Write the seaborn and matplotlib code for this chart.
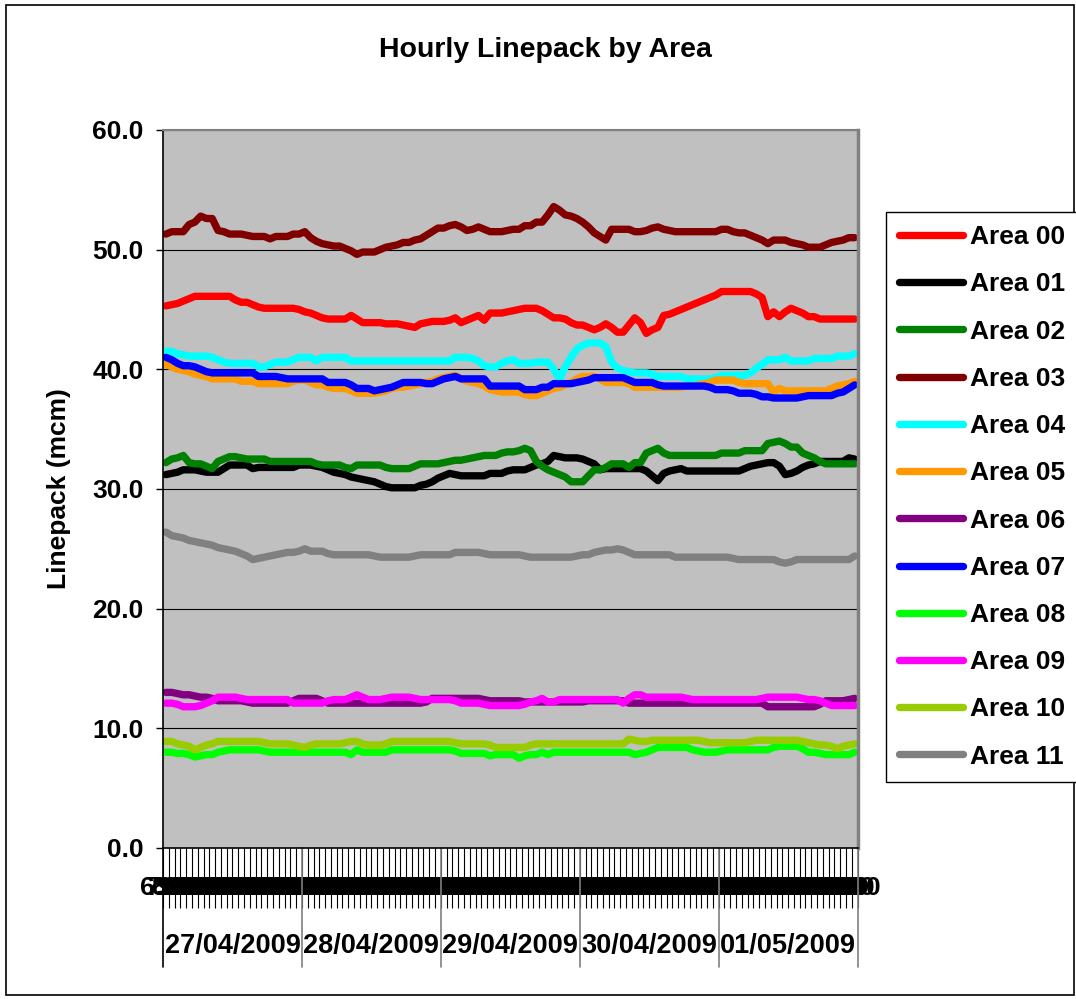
import matplotlib.pyplot as plt
import matplotlib.transforms as mtransforms
from matplotlib.patches import Rectangle
import seaborn as sns
import numpy as np
import pandas as pd

# gas days and hourly category labels
days = ['27/04/2009', '28/04/2009', '29/04/2009', '30/04/2009', '01/05/2009']
hours = ['6:00', '7:00', '8:00', '9:00', '10:00', '11:00', '12:00', '13:00',
         '14:00', '15:00', '16:00', '17:00', '18:00', '19:00', '20:00', '21:00',
         '22:00', '23:00', '0:00', '1:00', '2:00', '3:00', '4:00', '5:00']

# linepack (mcm), one row per gas day
area_00 = [45.3, 45.4, 45.5, 45.7, 45.9, 46.1, 46.1, 46.1, 46.1, 46.1, 46.1, 46.1, 45.8, 45.6, 45.6, 45.4, 45.2, 45.1, 45.1, 45.1, 45.1, 45.1, 45.1, 45.0,
           44.8, 44.7, 44.5, 44.3, 44.2, 44.2, 44.2, 44.2, 44.5, 44.2, 43.9, 43.9, 43.9, 43.9, 43.8, 43.8, 43.8, 43.7, 43.6, 43.5, 43.8, 43.9, 44.0, 44.0,
           44.0, 44.1, 44.3, 43.9, 44.1, 44.3, 44.5, 44.1, 44.7, 44.7, 44.7, 44.8, 44.9, 45.0, 45.1, 45.1, 45.1, 44.9, 44.6, 44.3, 44.3, 44.2, 43.9, 43.7,
           43.7, 43.5, 43.3, 43.5, 43.8, 43.5, 43.1, 43.1, 43.7, 44.3, 43.9, 43.0, 43.3, 43.5, 44.5, 44.6, 44.8, 45.0, 45.2, 45.4, 45.6, 45.8, 46.0, 46.2,
           46.5, 46.5, 46.5, 46.5, 46.5, 46.5, 46.3, 46.0, 44.4, 44.8, 44.4, 44.8, 45.1, 44.9, 44.7, 44.4, 44.4, 44.2, 44.2, 44.2, 44.2, 44.2, 44.2, 44.2]
area_01 = [31.2, 31.3, 31.4, 31.6, 31.6, 31.6, 31.5, 31.4, 31.4, 31.4, 31.7, 32.0, 32.0, 32.0, 32.0, 31.7, 31.8, 31.8, 31.8, 31.8, 31.8, 31.8, 31.8, 32.0,
           32.0, 32.0, 31.9, 31.8, 31.6, 31.4, 31.3, 31.2, 31.0, 30.9, 30.8, 30.7, 30.6, 30.4, 30.2, 30.1, 30.1, 30.1, 30.1, 30.1, 30.3, 30.4, 30.6, 30.9,
           31.1, 31.3, 31.2, 31.1, 31.1, 31.1, 31.1, 31.1, 31.3, 31.3, 31.3, 31.5, 31.6, 31.6, 31.6, 31.8, 32.0, 32.1, 32.3, 32.8, 32.7, 32.6, 32.6, 32.6,
           32.5, 32.3, 32.1, 31.6, 31.7, 31.7, 31.7, 31.7, 31.7, 31.7, 31.7, 31.5, 31.1, 30.7, 31.3, 31.5, 31.6, 31.7, 31.5, 31.5, 31.5, 31.5, 31.5, 31.5,
           31.5, 31.5, 31.5, 31.5, 31.7, 31.9, 32.0, 32.1, 32.2, 32.2, 31.9, 31.2, 31.3, 31.5, 31.8, 32.0, 32.1, 32.3, 32.3, 32.3, 32.3, 32.3, 32.6, 32.5]
area_02 = [32.2, 32.5, 32.6, 32.8, 32.2, 32.1, 32.1, 31.9, 31.7, 32.3, 32.5, 32.7, 32.7, 32.6, 32.5, 32.5, 32.5, 32.5, 32.3, 32.3, 32.3, 32.3, 32.3, 32.3,
           32.3, 32.3, 32.1, 32.0, 32.0, 32.0, 32.0, 31.8, 31.7, 32.0, 32.0, 32.0, 32.0, 32.0, 31.8, 31.7, 31.7, 31.7, 31.7, 31.9, 32.1, 32.1, 32.1, 32.1,
           32.2, 32.3, 32.4, 32.4, 32.5, 32.6, 32.7, 32.8, 32.8, 32.8, 33.0, 33.1, 33.1, 33.2, 33.4, 33.2, 32.3, 31.9, 31.6, 31.4, 31.2, 31.0, 30.6, 30.6,
           30.6, 31.1, 31.6, 31.6, 31.8, 32.1, 32.1, 32.1, 31.8, 32.2, 32.2, 33.0, 33.2, 33.4, 33.0, 32.8, 32.8, 32.8, 32.8, 32.8, 32.8, 32.8, 32.8, 32.8,
           33.0, 33.0, 33.0, 33.0, 33.2, 33.2, 33.2, 33.2, 33.8, 33.9, 34.0, 33.8, 33.5, 33.5, 33.0, 32.8, 32.6, 32.3, 32.1, 32.1, 32.1, 32.1, 32.1, 32.1]
area_03 = [51.3, 51.5, 51.5, 51.5, 52.1, 52.3, 52.8, 52.6, 52.6, 51.6, 51.5, 51.3, 51.3, 51.3, 51.2, 51.1, 51.1, 51.1, 50.9, 51.1, 51.1, 51.1, 51.3, 51.3,
           51.5, 51.0, 50.7, 50.5, 50.4, 50.3, 50.3, 50.1, 49.9, 49.6, 49.8, 49.8, 49.8, 50.0, 50.2, 50.3, 50.4, 50.6, 50.6, 50.8, 50.9, 51.2, 51.5, 51.8,
           51.8, 52.0, 52.1, 51.9, 51.6, 51.7, 51.9, 51.7, 51.5, 51.5, 51.5, 51.6, 51.7, 51.7, 52.0, 52.0, 52.3, 52.3, 52.9, 53.6, 53.3, 52.9, 52.8, 52.6,
           52.3, 51.9, 51.4, 51.1, 50.8, 51.7, 51.7, 51.7, 51.7, 51.5, 51.5, 51.6, 51.8, 51.9, 51.7, 51.6, 51.5, 51.5, 51.5, 51.5, 51.5, 51.5, 51.5, 51.5,
           51.7, 51.7, 51.5, 51.4, 51.4, 51.2, 51.0, 50.8, 50.5, 50.8, 50.8, 50.8, 50.6, 50.5, 50.4, 50.2, 50.2, 50.2, 50.4, 50.6, 50.7, 50.8, 51.0, 51.0]
area_04 = [41.5, 41.5, 41.3, 41.2, 41.1, 41.1, 41.1, 41.1, 41.0, 40.8, 40.6, 40.5, 40.5, 40.5, 40.5, 40.5, 40.2, 40.2, 40.4, 40.6, 40.6, 40.6, 40.8, 41.0,
           41.0, 41.0, 40.7, 41.0, 41.0, 41.0, 41.0, 41.0, 40.7, 40.7, 40.7, 40.7, 40.7, 40.7, 40.7, 40.7, 40.7, 40.7, 40.7, 40.7, 40.7, 40.7, 40.7, 40.7,
           40.7, 40.7, 41.0, 41.0, 41.0, 40.9, 40.7, 40.3, 40.2, 40.2, 40.5, 40.7, 40.8, 40.5, 40.5, 40.5, 40.6, 40.6, 40.6, 40.0, 39.2, 40.2, 41.0, 41.7,
           42.0, 42.2, 42.2, 42.2, 41.9, 40.6, 40.1, 39.9, 39.8, 39.7, 39.7, 39.7, 39.6, 39.4, 39.4, 39.4, 39.4, 39.4, 39.2, 39.2, 39.2, 39.2, 39.2, 39.3,
           39.5, 39.5, 39.5, 39.5, 39.5, 39.7, 40.1, 40.4, 40.8, 40.8, 40.8, 41.0, 40.7, 40.7, 40.7, 40.7, 40.9, 40.9, 40.9, 40.9, 41.1, 41.1, 41.1, 41.3]
area_05 = [40.4, 40.2, 40.0, 39.9, 39.8, 39.6, 39.5, 39.4, 39.2, 39.2, 39.2, 39.2, 39.2, 39.0, 39.0, 39.0, 38.8, 38.8, 38.8, 38.8, 38.8, 38.8, 39.0, 39.1,
           39.1, 38.9, 38.7, 38.7, 38.5, 38.4, 38.4, 38.4, 38.2, 38.0, 38.0, 38.0, 38.0, 38.1, 38.2, 38.4, 38.5, 38.5, 38.6, 38.7, 38.8, 38.9, 39.0, 39.2,
           39.3, 39.4, 39.5, 39.2, 39.0, 38.9, 38.8, 38.6, 38.3, 38.2, 38.1, 38.1, 38.1, 38.1, 37.9, 37.8, 37.8, 38.0, 38.2, 38.4, 38.5, 38.7, 38.9, 39.2,
           39.4, 39.4, 39.4, 39.2, 38.9, 38.9, 38.9, 38.9, 38.8, 38.5, 38.5, 38.5, 38.5, 38.5, 38.5, 38.5, 38.5, 38.5, 38.6, 38.6, 38.7, 38.8, 38.9, 39.1,
           39.1, 39.1, 39.1, 38.9, 38.8, 38.8, 38.8, 38.8, 38.8, 38.1, 38.4, 38.2, 38.2, 38.2, 38.2, 38.2, 38.2, 38.2, 38.2, 38.4, 38.6, 38.7, 38.8, 39.0]
area_06 = [13.0, 13.0, 12.9, 12.8, 12.8, 12.7, 12.6, 12.6, 12.5, 12.3, 12.3, 12.3, 12.3, 12.3, 12.2, 12.1, 12.1, 12.1, 12.1, 12.1, 12.1, 12.1, 12.3, 12.5,
           12.5, 12.5, 12.5, 12.3, 12.1, 12.1, 12.1, 12.1, 12.1, 12.1, 12.1, 12.1, 12.1, 12.1, 12.1, 12.1, 12.1, 12.1, 12.1, 12.1, 12.1, 12.2, 12.5, 12.5,
           12.5, 12.5, 12.5, 12.5, 12.5, 12.5, 12.5, 12.4, 12.3, 12.3, 12.3, 12.3, 12.3, 12.3, 12.2, 12.2, 12.2, 12.2, 12.2, 12.2, 12.2, 12.2, 12.2, 12.2,
           12.2, 12.3, 12.3, 12.3, 12.3, 12.3, 12.3, 12.3, 12.1, 12.1, 12.1, 12.1, 12.1, 12.1, 12.1, 12.1, 12.1, 12.1, 12.1, 12.1, 12.1, 12.1, 12.1, 12.1,
           12.1, 12.1, 12.1, 12.1, 12.1, 12.1, 12.1, 12.1, 11.8, 11.8, 11.8, 11.8, 11.8, 11.8, 11.8, 11.8, 11.8, 12.0, 12.3, 12.3, 12.3, 12.3, 12.4, 12.5]
area_07 = [41.0, 40.8, 40.5, 40.3, 40.3, 40.2, 40.0, 39.8, 39.7, 39.7, 39.7, 39.7, 39.7, 39.7, 39.7, 39.7, 39.4, 39.4, 39.4, 39.4, 39.3, 39.2, 39.2, 39.2,
           39.2, 39.2, 39.2, 39.2, 38.9, 38.9, 38.9, 38.9, 38.7, 38.4, 38.4, 38.4, 38.2, 38.3, 38.4, 38.5, 38.7, 38.9, 38.9, 38.9, 38.9, 38.8, 38.8, 39.0,
           39.2, 39.3, 39.4, 39.2, 39.2, 39.2, 39.2, 39.2, 38.6, 38.6, 38.6, 38.6, 38.6, 38.6, 38.3, 38.3, 38.3, 38.5, 38.5, 38.8, 38.8, 38.8, 38.8, 38.9,
           39.0, 39.1, 39.3, 39.3, 39.3, 39.3, 39.3, 39.3, 39.1, 38.9, 38.9, 38.9, 38.9, 38.7, 38.6, 38.6, 38.6, 38.6, 38.6, 38.6, 38.6, 38.6, 38.5, 38.3,
           38.3, 38.3, 38.2, 38.0, 38.0, 38.0, 37.9, 37.7, 37.7, 37.6, 37.6, 37.6, 37.6, 37.6, 37.7, 37.8, 37.8, 37.8, 37.8, 37.8, 38.0, 38.1, 38.4, 38.7]
area_08 = [8.0, 8.0, 7.9, 7.9, 7.8, 7.6, 7.7, 7.8, 7.8, 8.0, 8.1, 8.2, 8.2, 8.2, 8.2, 8.2, 8.2, 8.1, 8.0, 8.0, 8.0, 8.0, 8.0, 8.0,
           8.0, 8.0, 8.0, 8.0, 8.0, 8.0, 8.0, 8.0, 7.8, 8.2, 8.0, 8.0, 8.0, 8.0, 8.0, 8.2, 8.2, 8.2, 8.2, 8.2, 8.2, 8.2, 8.2, 8.2,
           8.2, 8.2, 8.1, 7.9, 7.9, 7.9, 7.9, 7.9, 7.7, 7.8, 7.8, 7.8, 7.8, 7.5, 7.7, 7.8, 7.8, 8.0, 7.8, 8.0, 8.0, 8.0, 8.0, 8.0,
           8.0, 8.0, 8.0, 8.0, 8.0, 8.0, 8.0, 8.0, 8.0, 7.8, 7.9, 8.0, 8.2, 8.4, 8.4, 8.4, 8.4, 8.4, 8.4, 8.2, 8.1, 8.0, 8.0, 8.0,
           8.1, 8.2, 8.2, 8.2, 8.2, 8.2, 8.2, 8.2, 8.2, 8.4, 8.5, 8.5, 8.5, 8.5, 8.3, 8.0, 8.0, 7.9, 7.8, 7.8, 7.8, 7.8, 7.8, 8.0]
area_09 = [12.1, 12.1, 12.0, 11.8, 11.8, 11.8, 11.9, 12.1, 12.3, 12.6, 12.6, 12.6, 12.6, 12.5, 12.4, 12.4, 12.4, 12.4, 12.4, 12.4, 12.4, 12.4, 12.1, 12.1,
           12.1, 12.1, 12.1, 12.1, 12.3, 12.4, 12.4, 12.4, 12.6, 12.8, 12.6, 12.4, 12.4, 12.4, 12.5, 12.6, 12.6, 12.6, 12.6, 12.5, 12.4, 12.4, 12.4, 12.4,
           12.4, 12.4, 12.3, 12.1, 12.1, 12.1, 12.1, 12.0, 11.9, 11.9, 11.9, 11.9, 11.9, 11.9, 12.0, 12.2, 12.3, 12.5, 12.2, 12.2, 12.4, 12.4, 12.4, 12.4,
           12.4, 12.4, 12.4, 12.4, 12.4, 12.4, 12.4, 12.1, 12.5, 12.8, 12.8, 12.6, 12.6, 12.6, 12.6, 12.6, 12.6, 12.6, 12.5, 12.4, 12.4, 12.4, 12.4, 12.4,
           12.4, 12.4, 12.4, 12.4, 12.4, 12.4, 12.4, 12.5, 12.6, 12.6, 12.6, 12.6, 12.6, 12.6, 12.5, 12.4, 12.4, 12.3, 12.1, 11.9, 11.9, 11.9, 11.9, 11.9]
area_10 = [8.9, 8.9, 8.7, 8.6, 8.5, 8.2, 8.4, 8.6, 8.7, 8.9, 8.9, 8.9, 8.9, 8.9, 8.9, 8.9, 8.9, 8.8, 8.7, 8.7, 8.7, 8.7, 8.6, 8.5,
           8.4, 8.6, 8.7, 8.7, 8.7, 8.7, 8.7, 8.8, 8.9, 8.9, 8.7, 8.6, 8.6, 8.6, 8.7, 8.9, 8.9, 8.9, 8.9, 8.9, 8.9, 8.9, 8.9, 8.9,
           8.9, 8.9, 8.8, 8.7, 8.7, 8.7, 8.7, 8.7, 8.6, 8.4, 8.4, 8.4, 8.4, 8.4, 8.4, 8.6, 8.7, 8.7, 8.7, 8.7, 8.7, 8.7, 8.7, 8.7,
           8.7, 8.7, 8.7, 8.7, 8.7, 8.7, 8.7, 8.7, 9.1, 9.0, 8.9, 8.9, 9.0, 9.0, 9.0, 9.0, 9.0, 9.0, 9.0, 9.0, 9.0, 8.9, 8.8, 8.8,
           8.8, 8.8, 8.8, 8.8, 8.8, 8.9, 9.0, 9.0, 9.0, 9.0, 9.0, 9.0, 9.0, 9.0, 8.9, 8.8, 8.7, 8.6, 8.6, 8.5, 8.3, 8.5, 8.6, 8.7]
area_11 = [26.4, 26.1, 26.0, 25.9, 25.7, 25.6, 25.5, 25.4, 25.3, 25.1, 25.0, 24.9, 24.8, 24.6, 24.4, 24.1, 24.2, 24.3, 24.4, 24.5, 24.6, 24.7, 24.7, 24.8,
           25.0, 24.8, 24.8, 24.8, 24.6, 24.5, 24.5, 24.5, 24.5, 24.5, 24.5, 24.5, 24.4, 24.3, 24.3, 24.3, 24.3, 24.3, 24.3, 24.4, 24.5, 24.5, 24.5, 24.5,
           24.5, 24.5, 24.7, 24.7, 24.7, 24.7, 24.7, 24.6, 24.5, 24.5, 24.5, 24.5, 24.5, 24.5, 24.4, 24.3, 24.3, 24.3, 24.3, 24.3, 24.3, 24.3, 24.3, 24.4,
           24.5, 24.5, 24.7, 24.8, 24.9, 24.9, 25.0, 24.9, 24.7, 24.5, 24.5, 24.5, 24.5, 24.5, 24.5, 24.5, 24.3, 24.3, 24.3, 24.3, 24.3, 24.3, 24.3, 24.3,
           24.3, 24.3, 24.2, 24.1, 24.1, 24.1, 24.1, 24.1, 24.1, 24.1, 23.9, 23.8, 23.9, 24.1, 24.1, 24.1, 24.1, 24.1, 24.1, 24.1, 24.1, 24.1, 24.1, 24.4]

area_names = ['Area 00', 'Area 01', 'Area 02', 'Area 03', 'Area 04', 'Area 05',
              'Area 06', 'Area 07', 'Area 08', 'Area 09', 'Area 10', 'Area 11']
area_values = [area_00, area_01, area_02, area_03, area_04, area_05,
               area_06, area_07, area_08, area_09, area_10, area_11]
area_colors = ['#FF0000', '#000000', '#008000', '#800000', '#00FFFF', '#FF9900',
               '#800080', '#0000FF', '#00FF00', '#FF00FF', '#99CC00', '#808080']

n_hours = len(days) * len(hours)
for vals in area_values:
    assert len(vals) == n_hours

# long table for seaborn
frames = []
for name, vals in zip(area_names, area_values):
    frames.append(pd.DataFrame({'hour': np.arange(n_hours), 'linepack': vals, 'area': name}))
df = pd.concat(frames, ignore_index=True)

sns.set_style('white')
plt.rcParams['font.family'] = ['Liberation Sans', 'DejaVu Sans']
plt.rcParams['font.weight'] = 'bold'
plt.rcParams['text.color'] = 'black'
plt.rcParams['axes.labelcolor'] = 'black'
plt.rcParams['xtick.color'] = 'black'
plt.rcParams['ytick.color'] = 'black'

fig = plt.figure(figsize=(10.76, 9.99), dpi=100)
ax = fig.add_axes([0.1515, 0.1512, 0.6455, 0.7187])
ax.set_facecolor('#C0C0C0')

sns.lineplot(data=df, x='hour', y='linepack', hue='area', hue_order=area_names,
             palette=dict(zip(area_names, area_colors)), linewidth=5.3,
             errorbar=None, ax=ax, legend=True)
for line in ax.get_lines():
    line.set_solid_joinstyle('round')

# y axis
ax.set_ylim(0, 60)
ax.set_yticks(np.arange(0, 61, 10))
ax.set_yticklabels([f'{v:.1f}' for v in np.arange(0, 61, 10)], fontsize=19, fontweight='bold')
ax.tick_params(axis='y', left=True, direction='out', length=5, width=1, color='black',
               labelcolor='black', pad=9)
ax.yaxis.grid(True, color='black', linewidth=0.8)
ax.xaxis.grid(False)
ax.set_ylabel('Linepack (mcm)', fontsize=19, fontweight='bold', labelpad=15)

# x axis: hourly categories, day groups below
ax.set_xlim(-0.5, n_hours - 0.5)
ax.set_xticks(np.arange(n_hours))
ax.set_xticklabels(hours * len(days), fontsize=19, fontweight='bold')
ax.tick_params(axis='x', which='major', bottom=False, length=0, pad=20, labelcolor='black')
ax.set_xticks(np.arange(n_hours + 1) - 0.5, minor=True)
ax.tick_params(axis='x', which='minor', bottom=True, direction='out', length=43,
               width=0.8, color='black')
ax.set_xlabel('')

trans = mtransforms.blended_transform_factory(ax.transData, ax.transAxes)
for i, d in enumerate(days):
    ax.text(i * len(hours) + len(hours) / 2 - 0.5, -0.137, d, transform=trans,
            ha='center', va='center', fontsize=19.5, fontweight='bold', color='black')
for i in range(len(days) + 1):
    ax.plot([i * len(hours) - 0.5] * 2, [0, -0.166], transform=trans, clip_on=False,
            color='black' if i == 0 else '#7f7f7f', linewidth=1.2)

for s in ['left', 'bottom']:
    ax.spines[s].set_color('black')
    ax.spines[s].set_linewidth(1.2)
ax.spines['top'].set_color('#808080')
ax.spines['top'].set_linewidth(1.5)
ax.spines['right'].set_color('#808080')
ax.spines['right'].set_linewidth(2.5)

fig.text(0.507, 0.95, 'Hourly Linepack by Area', ha='center', va='center',
         fontsize=20.5, fontweight='bold', color='black')

# legend on the right, outside the plot area
old = ax.get_legend()
handles = old.legend_handles
labels = [t.get_text() for t in old.get_texts()]
old.remove()
for h in handles:
    h.set_linewidth(5.3)
    h.set_solid_capstyle('round')
leg = fig.legend(handles, labels, loc='upper left', bbox_to_anchor=(0.8234, 0.7878),
                 bbox_transform=fig.transFigure, borderaxespad=0, frameon=True,
                 fancybox=False, framealpha=1, edgecolor='black',
                 prop={'weight': 'bold', 'size': 19}, handlelength=2.4,
                 handletextpad=0.3, labelspacing=0.88, borderpad=0.5)
leg.get_frame().set_linewidth(1)
for t in leg.get_texts():
    t.set_color('black')

# chart border
fig.patches.append(Rectangle((0.006, 0.004), 0.992, 0.991, transform=fig.transFigure,
                             fill=False, edgecolor='black', linewidth=1.2))

fig.savefig('out.png', dpi=100)
